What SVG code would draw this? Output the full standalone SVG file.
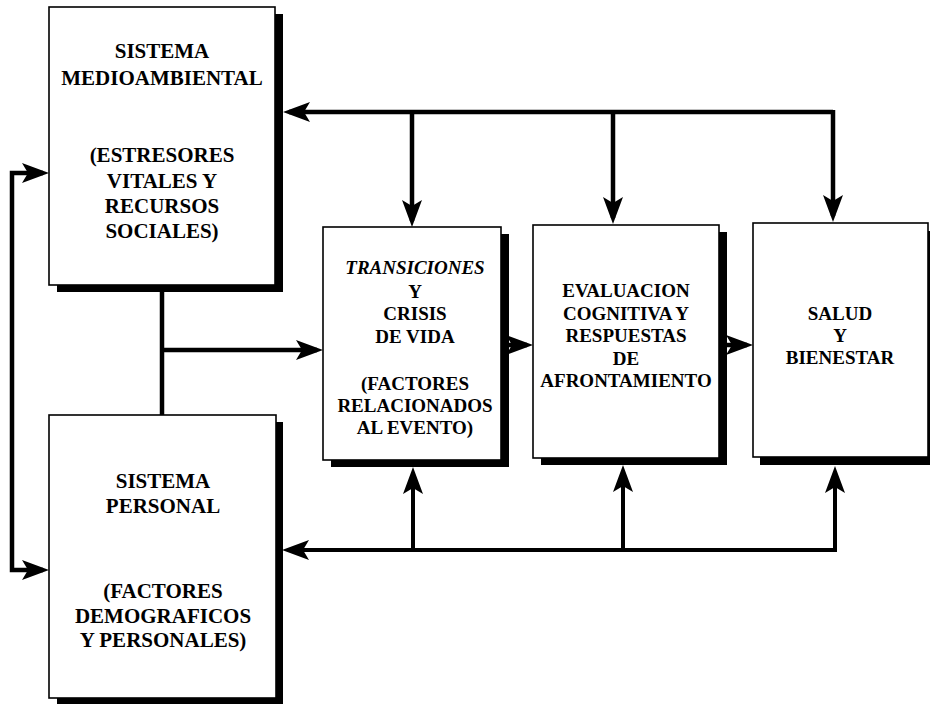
<svg xmlns="http://www.w3.org/2000/svg" width="930" height="704" viewBox="0 0 930 704">
<style>
.box{fill:#fff;stroke:#000;stroke-width:1.6}
.sh{fill:#000}
.t{font-family:"Liberation Serif","Times New Roman",serif;font-weight:bold;fill:#000;text-anchor:middle}
.big{font-size:21px}
.sm{font-size:19px}
.ln{fill:none;stroke:#000;stroke-width:4.5;stroke-linejoin:miter}
.thin{stroke-width:4}
</style>
<defs>
<marker id="ah" markerUnits="userSpaceOnUse" markerWidth="28" markerHeight="22" viewBox="0 -11 28 22" refX="21" refY="0" orient="auto">
<path d="M0,-10 L27,0 L0,10 L6,0 Z" fill="#000"/>
</marker>
</defs>
<rect width="930" height="704" fill="#fff"/>

<g id="medioambiental">
<rect class="sh" x="57" y="14" width="226" height="278"/>
<rect class="box" x="49" y="7" width="226" height="278"/>
<text class="t big" x="162"><tspan x="162" y="58">SISTEMA</tspan><tspan x="162" y="85">MEDIOAMBIENTAL</tspan><tspan x="162" y="162">(ESTRESORES</tspan><tspan x="162" y="188">VITALES Y</tspan><tspan x="162" y="213">RECURSOS</tspan><tspan x="162" y="238">SOCIALES)</tspan></text>
</g>

<g id="personal">
<rect class="sh" x="57" y="422" width="226" height="283"/>
<rect class="box" x="49" y="415" width="227" height="283"/>
<text class="t big"><tspan x="163" y="488">SISTEMA</tspan><tspan x="163" y="513">PERSONAL</tspan><tspan x="163" y="598">(FACTORES</tspan><tspan x="163" y="623">DEMOGRAFICOS</tspan><tspan x="163" y="647">Y PERSONALES)</tspan></text>
</g>

<g id="transiciones">
<rect class="sh" x="331" y="234" width="178" height="233"/>
<rect class="box" x="323" y="227" width="178" height="233"/>
<text class="t sm"><tspan x="415" y="274" font-style="italic">TRANSICIONES</tspan><tspan x="415" y="298">Y</tspan><tspan x="415" y="320">CRISIS</tspan><tspan x="415" y="343">DE VIDA</tspan><tspan x="415" y="390">(FACTORES</tspan><tspan x="415" y="412">RELACIONADOS</tspan><tspan x="415" y="434">AL EVENTO)</tspan></text>
</g>

<g id="evaluacion">
<rect class="sh" x="541" y="232" width="186" height="233"/>
<rect class="box" x="533" y="225" width="186" height="233"/>
<text class="t sm"><tspan x="626" y="297">EVALUACION</tspan><tspan x="626" y="320">COGNITIVA Y</tspan><tspan x="626" y="342">RESPUESTAS</tspan><tspan x="626" y="365">DE</tspan><tspan x="626" y="387">AFRONTAMIENTO</tspan></text>
</g>

<g id="salud">
<rect class="sh" x="760" y="231" width="180" height="234"/>
<rect class="box" x="753" y="223" width="175" height="234"/>
<text class="t sm"><tspan x="840" y="320">SALUD</tspan><tspan x="840" y="342">Y</tspan><tspan x="840" y="364">BIENESTAR</tspan></text>
</g>

<g id="connectors">
<path class="ln" d="M833,112 L289,112" marker-end="url(#ah)"/>
<path class="ln" d="M412,112 L412,221" marker-end="url(#ah)"/>
<path class="ln" d="M613,112 L613,218" marker-end="url(#ah)"/>
<path class="ln" d="M833,110 L833,216" marker-end="url(#ah)"/>

<path class="ln thin" d="M835,550 L288,550" marker-end="url(#ah)"/>
<path class="ln thin" d="M413,550 L413,473" marker-end="url(#ah)"/>
<path class="ln thin" d="M623,550 L623,471" marker-end="url(#ah)"/>
<path class="ln thin" d="M835,552 L835,472" marker-end="url(#ah)"/>

<path class="ln" d="M12,372 L12,173 L43,173" marker-end="url(#ah)"/>
<path class="ln" d="M12,372 L12,570 L43,570" marker-end="url(#ah)"/>

<path class="ln" d="M162,292 L162,415"/>
<path class="ln" d="M162,350 L317,350" marker-end="url(#ah)"/>
<path class="ln" d="M509,345 L527,345" marker-end="url(#ah)"/>
<path class="ln" d="M727,345 L747,345" marker-end="url(#ah)"/>
</g>
</svg>
